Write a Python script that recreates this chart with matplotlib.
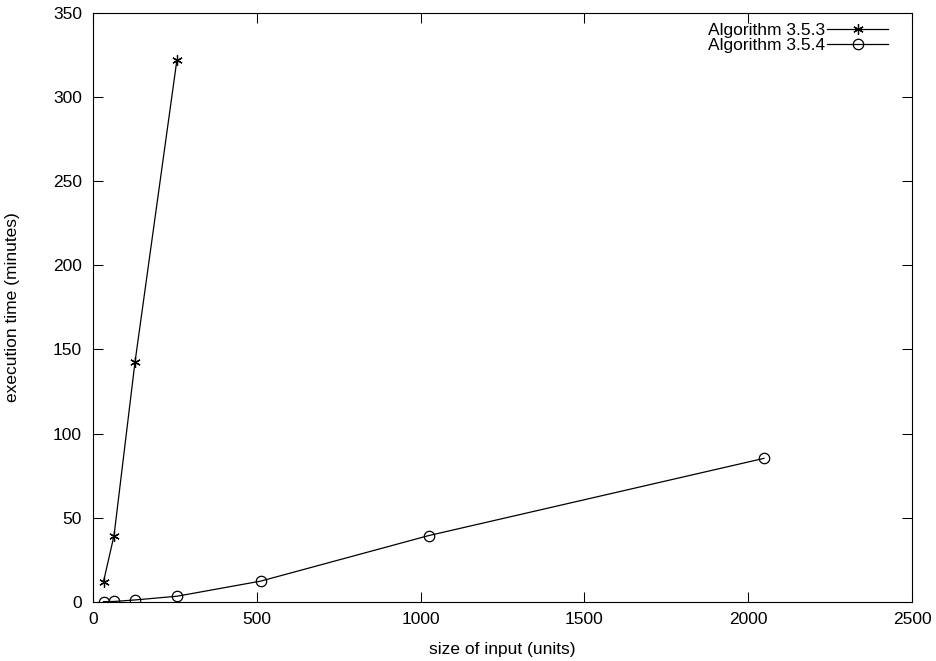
import matplotlib
matplotlib.use("Agg")
import matplotlib.pyplot as plt

plt.rcParams['font.family'] = ['Liberation Sans', 'DejaVu Sans']
plt.rcParams['font.size'] = 12.5

size_353 = [32, 64, 128, 256]
time_353 = [12.1, 39.4, 142.3, 321.9]

size_354 = [32, 64, 128, 256, 512, 1024, 2048]
time_354 = [0.2, 0.3, 1.2, 3.4, 12.4, 39.4, 85.3]

fig = plt.figure(figsize=(9.36, 6.61), dpi=100)
ax = fig.add_axes([0.0994, 0.0893, 0.875, 0.8915])

ax.plot(size_353, time_353, color='black', linewidth=0.9,
        marker=(6, 2, 0), markersize=7.5, markeredgewidth=0.9,
        label='Algorithm 3.5.3')
ax.plot(size_354, time_354, color='black', linewidth=0.9,
        marker='o', markersize=7.5, markerfacecolor='none', markeredgewidth=0.9,
        label='Algorithm 3.5.4')

ax.set_xlim(0, 2500)
ax.set_ylim(0, 350)
ax.set_xticks(range(0, 2501, 500))
ax.set_yticks(range(0, 351, 50))
ax.tick_params(axis='both', direction='in', length=7, width=0.75, top=True, right=True)
ax.tick_params(axis='y', pad=8)
ax.tick_params(axis='x', pad=7)
for s in ax.spines.values():
    s.set_linewidth(0.8)

ax.set_xlabel('size of input (units)')
ax.set_ylabel('execution time (minutes)')
ax.xaxis.set_label_coords(0.5, -0.068)
ax.yaxis.set_label_coords(-0.089, 0.5)

ax.legend(loc='upper right', bbox_to_anchor=(0.9707, 0.982), frameon=False,
          markerfirst=False, handlelength=3.5, handletextpad=0.15,
          labelspacing=-0.05, borderaxespad=0, borderpad=0)

fig.savefig('out.png', dpi=100)
